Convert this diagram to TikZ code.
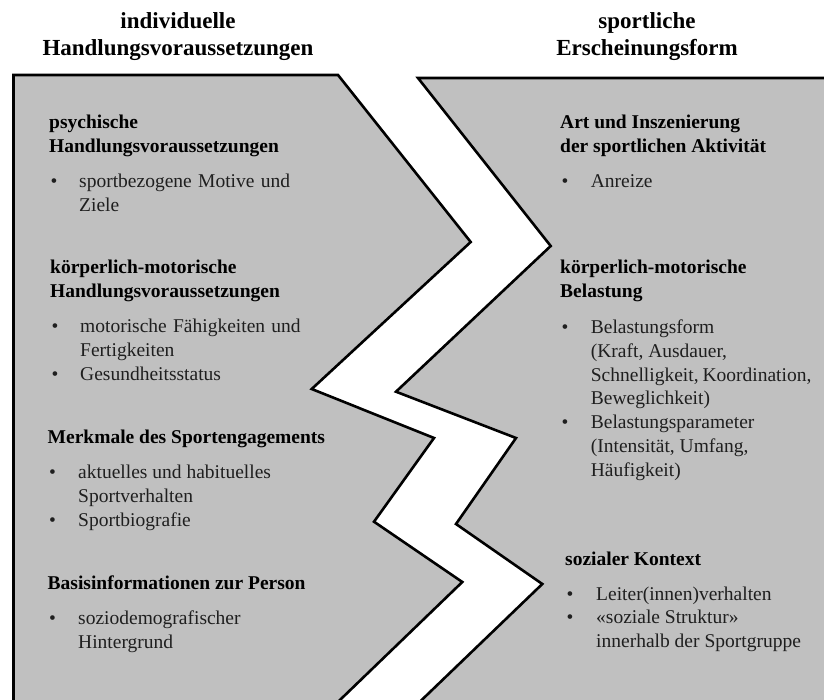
\documentclass[tikz,border=0pt]{standalone}
\usepackage{fontspec}
\setmainfont{Liberation Serif}
\usepackage{array}
\definecolor{panel}{RGB}{192,192,192}
\newcommand{\bul}{\hspace*{1.5pt}\textbullet}
\begin{document}
\begin{tikzpicture}[x=1pt,y=-1pt,
  panelshape/.style={draw=black, fill=panel, line width=2.6pt, line join=miter},
  headtxt/.style={inner sep=0pt, anchor=base, font=\fontsize{23}{27}\selectfont\bfseries},
  titletxt/.style={inner sep=0pt, anchor=base west, font=\fontsize{19.5}{23.9}\selectfont\bfseries},
  listtxt/.style={inner sep=0pt, anchor=base west, font=\fontsize{19.5}{23.9}\selectfont, text=black!88}]
\useasboundingbox (0,0) rectangle (824,700);
\begin{scope}
\clip (0,0) rectangle (824,700);
% left panel
\draw[panelshape] (13.5,712) -- (13.5,75) -- (338,75) -- (470.7,242) -- (311.7,389)
  -- (434,438) -- (374,521.7) -- (462.3,582) -- (327.5,712) -- cycle;
% right panel
\draw[panelshape] (830,78) -- (418,78) -- (550.7,246) -- (396,391.7) -- (516,438)
  -- (456,524) -- (542.3,584) -- (409.2,712) -- (830,712) -- cycle;
\end{scope}
% headers
\node[headtxt] (hl) at (178,28.7) {\begin{tabular}[t]{@{}c@{}}individuelle\\[-0.6pt]Handlungsvoraussetzungen\end{tabular}};
\node[headtxt] (hr) at (647,28.7) {\begin{tabular}[t]{@{}c@{}}sportliche\\[-0.6pt]Erscheinungsform\end{tabular}};
% left column
\node[titletxt] (l1t) at (49,128.3) {\begin{tabular}[t]{@{}l@{}}psychische\\Handlungsvoraussetzungen\end{tabular}};
\node[listtxt] (l1l) at (49,187.3) {\begin{tabular}[t]{@{}p{30pt}@{}l@{}}\bul & \makebox[211pt][s]{sportbezogene Motive und}\\ & Ziele\end{tabular}};
\node[titletxt] (l2t) at (50,274) {\begin{tabular}[t]{@{}l@{}}körperlich-motorische\\Handlungsvoraussetzungen\end{tabular}};
\node[listtxt] (l2l) at (50,332.7) {\begin{tabular}[t]{@{}p{30pt}@{}l@{}}\bul & \makebox[220.5pt][s]{motorische Fähigkeiten und}\\ & Fertigkeiten\\ \bul & Gesundheitsstatus\end{tabular}};
\node[titletxt] (l3t) at (47.5,443.7) {Merkmale des Sportengagements};
\node[listtxt] (l3l) at (47.5,478.7) {\begin{tabular}[t]{@{}p{30.5pt}@{}l@{}}\bul & aktuelles und habituelles\\ & Sportverhalten\\ \bul & Sportbiografie\end{tabular}};
\node[titletxt] (l4t) at (47.5,589.8) {Basisinformationen zur Person};
\node[listtxt] (l4l) at (47.5,624.7) {\begin{tabular}[t]{@{}p{30.5pt}@{}l@{}}\bul & soziodemografischer\\ & Hintergrund\end{tabular}};
% right column
\node[titletxt] (r1t) at (560,128.3) {\begin{tabular}[t]{@{}l@{}}Art und Inszenierung\\der sportlichen Aktivität\end{tabular}};
\node[listtxt] (r1l) at (560,187.3) {\begin{tabular}[t]{@{}p{30.7pt}@{}l@{}}\bul & Anreize\end{tabular}};
\node[titletxt] (r2t) at (560,274) {\begin{tabular}[t]{@{}l@{}}körperlich-motorische\\Belastung\end{tabular}};
\node[listtxt] (r2l) at (560,333.3) {\begin{tabular}[t]{@{}p{30.7pt}@{}l@{}}\bul & Belastungsform\\ & (Kraft, Ausdauer,\\ & \makebox[220.5pt][s]{Schnelligkeit, Koordination,}\\ & Beweglichkeit)\\ \bul & Belastungsparameter\\ & (Intensität, Umfang,\\ & Häufigkeit)\end{tabular}};
\node[titletxt] (r3t) at (565,565.7) {sozialer Kontext};
\node[listtxt] (r3l) at (565,600) {\begin{tabular}[t]{@{}p{31pt}@{}l@{}}\bul & Leiter(innen)verhalten\\ \bul & «soziale Struktur»\\ & innerhalb der Sportgruppe\end{tabular}};
\end{tikzpicture}
\end{document}
